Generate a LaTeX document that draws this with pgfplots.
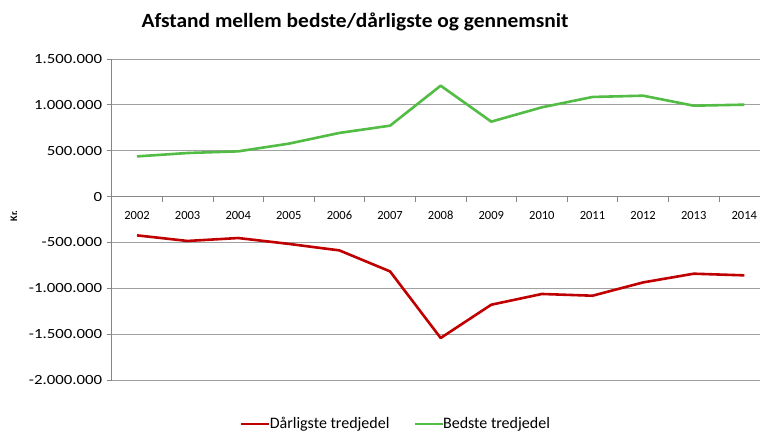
\documentclass[border=0pt]{standalone}
\usepackage{pgfplots}
\pgfplotsset{compat=1.18}
\usepackage{fontspec}
\setmainfont{Carlito}
\newfontfamily\yfont[FakeStretch=1.2]{Carlito}
\newfontfamily\tfont[FakeStretch=1.06]{Carlito}
\definecolor{cred}{RGB}{192,0,0}
\definecolor{cgreen}{RGB}{82,188,68}
\definecolor{cgrid}{RGB}{160,160,160}
\definecolor{caxis}{RGB}{134,134,134}
\begin{document}
\begin{tikzpicture}
\useasboundingbox (0,0) rectangle (760bp,433bp);
\node[font=\tfont\fontsize{20.2bp}{24bp}\selectfont\bfseries] at (355bp,411bp) {Afstand mellem bedste/dårligste og gennemsnit};
\node[font=\fontsize{10bp}{12bp}\selectfont\bfseries, rotate=90] at (14bp,217bp) {Kr.};
\begin{axis}[
  at={(111.7bp,53bp)}, anchor=south west,
  scale only axis, width=648.3bp, height=321bp,
  xmin=-0.5, xmax=12.31,
  ymin=-2000000, ymax=1500000,
  scaled y ticks=false,
  axis x line=middle, axis y line=left,
  axis line style={-, draw=caxis, line width=0.8bp},
  ytick={-2000000,-1500000,-1000000,-500000,0,500000,1000000,1500000},
  yticklabels={-2.000.000,-1.500.000,-1.000.000,-500.000,0,500.000,1.000.000,1.500.000},
  yticklabel style={font=\yfont\fontsize{14bp}{16bp}\selectfont, anchor=east, xshift=-1bp},
  ymajorgrids, grid style={draw=cgrid, line width=0.9bp},
  xtick={0,...,12},
  xticklabels={2002,2003,2004,2005,2006,2007,2008,2009,2010,2011,2012,2013,2014},
  xticklabel style={font=\fontsize{12.5bp}{15bp}\selectfont, anchor=north, yshift=-6bp},
  minor xtick={-0.5,0.5,...,11.5},
  tick align=outside,
  major tick length=5bp, minor tick length=5bp,
  xtick style={draw=none},
  minor x tick style={draw=caxis, line width=0.8bp},
  ytick style={draw=caxis, line width=0.8bp},
  clip=false,
  legend columns=2,
  legend style={at={(0.4386,-0.137)}, anchor=center, draw=none, fill=none,
    font=\fontsize{16bp}{18bp}\selectfont, column sep=0bp,
    /tikz/every odd column/.append style={column sep=-3bp},
    /tikz/every even column/.append style={column sep=22bp}},
  legend image code/.code={\draw[#1] (0,0) -- (28bp,0);},
]
\addplot[cred, line width=2.6bp, line join=round] coordinates {
(0,-423000) (1,-484000) (2,-452000) (3,-516000) (4,-587000) (5,-816000)
(6,-1542000) (7,-1179000) (8,-1062000) (9,-1081000) (10,-936000) (11,-841000) (12,-859000)};
\addlegendentry{Dårligste tredjedel}
\addplot[cgreen, line width=2.6bp, line join=round] coordinates {
(0,438000) (1,475000) (2,493000) (3,577000) (4,694000) (5,773000)
(6,1209000) (7,817000) (8,973000) (9,1086000) (10,1100000) (11,991000) (12,1002000)};
\addlegendentry{Bedste tredjedel}
\end{axis}
\end{tikzpicture}
\end{document}
